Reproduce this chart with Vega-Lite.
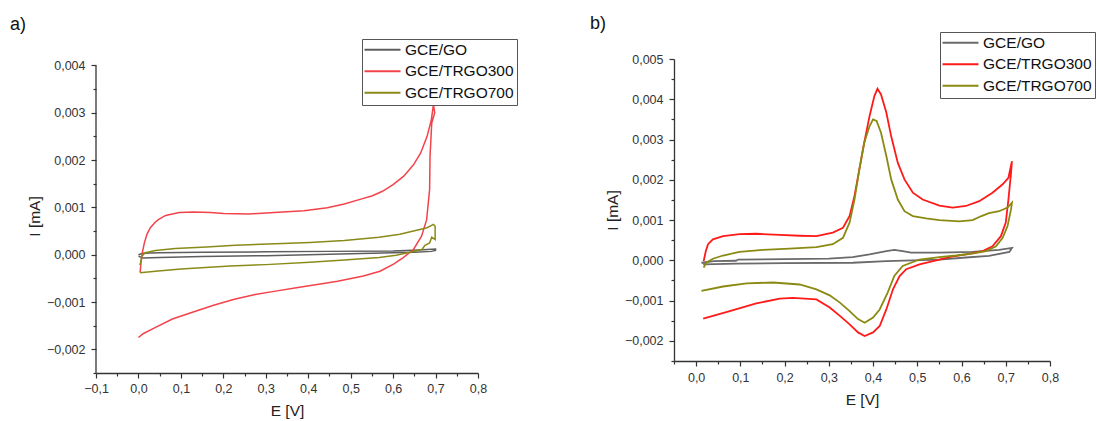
{
  "$schema": "https://vega.github.io/schema/vega-lite/v6.json",
  "background": "white",
  "padding": {"left": 10, "top": 14, "right": 0, "bottom": 0},
  "spacing": 72,
  "columns": 2,
  "align": "none",
  "config": {
    "view": {"stroke": null},
    "font": "Liberation Sans",
    "axis": {"grid": false, "domainColor": "#333333", "domainWidth": 1.3, "tickColor": "#333333", "tickWidth": 1.2, "labelFont": "Liberation Sans", "labelFontSize": 12.5, "labelColor": "#333333", "titleFont": "Liberation Sans", "titleFontSize": 15.5, "titleFontWeight": "normal", "titleColor": "#222222", "labelOverlap": false, "labelFlush": false},
    "legend": {"title": null, "strokeColor": "#555555", "fillColor": "white", "padding": 3, "labelFontSize": 15.5, "labelFont": "Liberation Sans", "labelColor": "#111111", "symbolType": "M-3.6,0H3.6", "symbolSize": 100, "symbolStrokeWidth": 1.8, "symbolOffset": 9.75, "labelOffset": 14.8, "rowPadding": 4.5, "labelLimit": 300},
    "title": {"fontSize": 18, "fontWeight": "normal", "font": "Liberation Sans", "color": "#111111", "anchor": "start", "frame": "group", "baseline": "alphabetic"}
  },
  "resolve": {"scale": {"color": "independent"}, "legend": {"color": "independent"}},
  "datasets": {
    "a": [
      {"s":"GCE/GO","E":0.0,"I":0.0,"k":0},{"s":"GCE/GO","E":0.01,"I":0.00003,"k":1},{"s":"GCE/GO","E":0.05,"I":0.00004,"k":2},{"s":"GCE/GO","E":0.15,"I":0.00005,"k":3},{"s":"GCE/GO","E":0.3,"I":0.00006,"k":4},{"s":"GCE/GO","E":0.45,"I":0.00007,"k":5},{"s":"GCE/GO","E":0.6,"I":0.00008,"k":6},{"s":"GCE/GO","E":0.66,"I":0.0001,"k":7},{"s":"GCE/GO","E":0.7,"I":0.00012,"k":8},{"s":"GCE/GO","E":0.7,"I":0.00009,"k":9},{"s":"GCE/GO","E":0.69,"I":0.00007,"k":10},{"s":"GCE/GO","E":0.65,"I":0.00005,"k":11},{"s":"GCE/GO","E":0.55,"I":0.00003,"k":12},{"s":"GCE/GO","E":0.45,"I":0.00001,"k":13},{"s":"GCE/GO","E":0.3,"I":-0.00002,"k":14},{"s":"GCE/GO","E":0.15,"I":-0.00004,"k":15},{"s":"GCE/GO","E":0.05,"I":-0.00006,"k":16},{"s":"GCE/GO","E":0.01,"I":-0.00007,"k":17},{"s":"GCE/GO","E":0.0,"I":-0.00003,"k":18},
      {"s":"GCE/TRGO300","E":0.004,"I":-0.00038,"k":0},{"s":"GCE/TRGO300","E":0.006,"I":-0.00017,"k":1},{"s":"GCE/TRGO300","E":0.009,"I":0.00004,"k":2},{"s":"GCE/TRGO300","E":0.014,"I":0.00025,"k":3},{"s":"GCE/TRGO300","E":0.02,"I":0.00043,"k":4},{"s":"GCE/TRGO300","E":0.028,"I":0.00057,"k":5},{"s":"GCE/TRGO300","E":0.04,"I":0.00069,"k":6},{"s":"GCE/TRGO300","E":0.047,"I":0.00074,"k":7},{"s":"GCE/TRGO300","E":0.064,"I":0.00083,"k":8},{"s":"GCE/TRGO300","E":0.096,"I":0.00089,"k":9},{"s":"GCE/TRGO300","E":0.13,"I":0.0009,"k":10},{"s":"GCE/TRGO300","E":0.17,"I":0.00089,"k":11},{"s":"GCE/TRGO300","E":0.2,"I":0.00087,"k":12},{"s":"GCE/TRGO300","E":0.26,"I":0.00086,"k":13},{"s":"GCE/TRGO300","E":0.32,"I":0.00089,"k":14},{"s":"GCE/TRGO300","E":0.39,"I":0.00093,"k":15},{"s":"GCE/TRGO300","E":0.445,"I":0.00099,"k":16},{"s":"GCE/TRGO300","E":0.485,"I":0.00107,"k":17},{"s":"GCE/TRGO300","E":0.526,"I":0.00118,"k":18},{"s":"GCE/TRGO300","E":0.55,"I":0.00124,"k":19},{"s":"GCE/TRGO300","E":0.575,"I":0.00134,"k":20},{"s":"GCE/TRGO300","E":0.6,"I":0.00148,"k":21},{"s":"GCE/TRGO300","E":0.625,"I":0.00166,"k":22},{"s":"GCE/TRGO300","E":0.648,"I":0.0019,"k":23},{"s":"GCE/TRGO300","E":0.665,"I":0.00215,"k":24},{"s":"GCE/TRGO300","E":0.68,"I":0.0025,"k":25},{"s":"GCE/TRGO300","E":0.69,"I":0.00285,"k":26},{"s":"GCE/TRGO300","E":0.695,"I":0.00317,"k":27},{"s":"GCE/TRGO300","E":0.698,"I":0.003,"k":28},{"s":"GCE/TRGO300","E":0.691,"I":0.00278,"k":29},{"s":"GCE/TRGO300","E":0.687,"I":0.00208,"k":30},{"s":"GCE/TRGO300","E":0.686,"I":0.00138,"k":31},{"s":"GCE/TRGO300","E":0.679,"I":0.00074,"k":32},{"s":"GCE/TRGO300","E":0.667,"I":0.00039,"k":33},{"s":"GCE/TRGO300","E":0.648,"I":0.00011,"k":34},{"s":"GCE/TRGO300","E":0.624,"I":-0.00006,"k":35},{"s":"GCE/TRGO300","E":0.601,"I":-0.0002,"k":36},{"s":"GCE/TRGO300","E":0.569,"I":-0.00035,"k":37},{"s":"GCE/TRGO300","E":0.53,"I":-0.00045,"k":38},{"s":"GCE/TRGO300","E":0.469,"I":-0.00056,"k":39},{"s":"GCE/TRGO300","E":0.421,"I":-0.00063,"k":40},{"s":"GCE/TRGO300","E":0.372,"I":-0.0007,"k":41},{"s":"GCE/TRGO300","E":0.323,"I":-0.00077,"k":42},{"s":"GCE/TRGO300","E":0.275,"I":-0.00084,"k":43},{"s":"GCE/TRGO300","E":0.226,"I":-0.00094,"k":44},{"s":"GCE/TRGO300","E":0.177,"I":-0.00107,"k":45},{"s":"GCE/TRGO300","E":0.129,"I":-0.00121,"k":46},{"s":"GCE/TRGO300","E":0.08,"I":-0.00136,"k":47},{"s":"GCE/TRGO300","E":0.039,"I":-0.00154,"k":48},{"s":"GCE/TRGO300","E":0.011,"I":-0.00167,"k":49},{"s":"GCE/TRGO300","E":0.0,"I":-0.00175,"k":50},
      {"s":"GCE/TRGO700","E":0.003,"I":-0.00022,"k":0},{"s":"GCE/TRGO700","E":0.005,"I":-0.00017,"k":1},{"s":"GCE/TRGO700","E":0.008,"I":-0.00003,"k":2},{"s":"GCE/TRGO700","E":0.016,"I":0.00004,"k":3},{"s":"GCE/TRGO700","E":0.04,"I":0.00009,"k":4},{"s":"GCE/TRGO700","E":0.087,"I":0.00013,"k":5},{"s":"GCE/TRGO700","E":0.16,"I":0.00016,"k":6},{"s":"GCE/TRGO700","E":0.228,"I":0.0002,"k":7},{"s":"GCE/TRGO700","E":0.323,"I":0.00023,"k":8},{"s":"GCE/TRGO700","E":0.404,"I":0.00026,"k":9},{"s":"GCE/TRGO700","E":0.485,"I":0.0003,"k":10},{"s":"GCE/TRGO700","E":0.567,"I":0.00037,"k":11},{"s":"GCE/TRGO700","E":0.616,"I":0.00043,"k":12},{"s":"GCE/TRGO700","E":0.648,"I":0.0005,"k":13},{"s":"GCE/TRGO700","E":0.68,"I":0.00057,"k":14},{"s":"GCE/TRGO700","E":0.695,"I":0.00064,"k":15},{"s":"GCE/TRGO700","E":0.699,"I":0.0006,"k":16},{"s":"GCE/TRGO700","E":0.699,"I":0.00032,"k":17},{"s":"GCE/TRGO700","E":0.691,"I":0.00037,"k":18},{"s":"GCE/TRGO700","E":0.686,"I":0.00025,"k":19},{"s":"GCE/TRGO700","E":0.675,"I":0.0002,"k":20},{"s":"GCE/TRGO700","E":0.668,"I":0.00011,"k":21},{"s":"GCE/TRGO700","E":0.645,"I":0.00006,"k":22},{"s":"GCE/TRGO700","E":0.607,"I":-0.00001,"k":23},{"s":"GCE/TRGO700","E":0.567,"I":-0.00006,"k":24},{"s":"GCE/TRGO700","E":0.485,"I":-0.00011,"k":25},{"s":"GCE/TRGO700","E":0.404,"I":-0.00016,"k":26},{"s":"GCE/TRGO700","E":0.3,"I":-0.00021,"k":27},{"s":"GCE/TRGO700","E":0.216,"I":-0.00024,"k":28},{"s":"GCE/TRGO700","E":0.1,"I":-0.0003,"k":29},{"s":"GCE/TRGO700","E":0.04,"I":-0.00035,"k":30},{"s":"GCE/TRGO700","E":0.004,"I":-0.00038,"k":31}
    ],
    "b": [
      {"s":"GCE/GO","E":0.012,"I":-0.00006,"k":0},{"s":"GCE/GO","E":0.04,"I":-0.00002,"k":1},{"s":"GCE/GO","E":0.09,"I":-0.00001,"k":2},{"s":"GCE/GO","E":0.095,"I":0.00002,"k":3},{"s":"GCE/GO","E":0.2,"I":0.00003,"k":4},{"s":"GCE/GO","E":0.3,"I":0.00004,"k":5},{"s":"GCE/GO","E":0.354,"I":0.00008,"k":6},{"s":"GCE/GO","E":0.392,"I":0.00015,"k":7},{"s":"GCE/GO","E":0.43,"I":0.00023,"k":8},{"s":"GCE/GO","E":0.448,"I":0.00026,"k":9},{"s":"GCE/GO","E":0.467,"I":0.00023,"k":10},{"s":"GCE/GO","E":0.486,"I":0.00019,"k":11},{"s":"GCE/GO","E":0.55,"I":0.00019,"k":12},{"s":"GCE/GO","E":0.625,"I":0.00021,"k":13},{"s":"GCE/GO","E":0.685,"I":0.00026,"k":14},{"s":"GCE/GO","E":0.714,"I":0.00031,"k":15},{"s":"GCE/GO","E":0.708,"I":0.00021,"k":16},{"s":"GCE/GO","E":0.662,"I":0.00011,"k":17},{"s":"GCE/GO","E":0.61,"I":0.00007,"k":18},{"s":"GCE/GO","E":0.55,"I":0.00002,"k":19},{"s":"GCE/GO","E":0.43,"I":-0.00002,"k":20},{"s":"GCE/GO","E":0.354,"I":-0.00006,"k":21},{"s":"GCE/GO","E":0.2,"I":-0.00007,"k":22},{"s":"GCE/GO","E":0.091,"I":-0.00008,"k":23},{"s":"GCE/GO","E":0.016,"I":-0.0001,"k":24},
      {"s":"GCE/TRGO300","E":0.017,"I":-0.00002,"k":0},{"s":"GCE/TRGO300","E":0.022,"I":0.00023,"k":1},{"s":"GCE/TRGO300","E":0.027,"I":0.0004,"k":2},{"s":"GCE/TRGO300","E":0.038,"I":0.00052,"k":3},{"s":"GCE/TRGO300","E":0.061,"I":0.0006,"k":4},{"s":"GCE/TRGO300","E":0.098,"I":0.00065,"k":5},{"s":"GCE/TRGO300","E":0.136,"I":0.00066,"k":6},{"s":"GCE/TRGO300","E":0.189,"I":0.00063,"k":7},{"s":"GCE/TRGO300","E":0.234,"I":0.00061,"k":8},{"s":"GCE/TRGO300","E":0.272,"I":0.0006,"k":9},{"s":"GCE/TRGO300","E":0.309,"I":0.00069,"k":10},{"s":"GCE/TRGO300","E":0.332,"I":0.00081,"k":11},{"s":"GCE/TRGO300","E":0.347,"I":0.0011,"k":12},{"s":"GCE/TRGO300","E":0.358,"I":0.0016,"k":13},{"s":"GCE/TRGO300","E":0.369,"I":0.00226,"k":14},{"s":"GCE/TRGO300","E":0.38,"I":0.00292,"k":15},{"s":"GCE/TRGO300","E":0.392,"I":0.00358,"k":16},{"s":"GCE/TRGO300","E":0.403,"I":0.00408,"k":17},{"s":"GCE/TRGO300","E":0.41,"I":0.00426,"k":18},{"s":"GCE/TRGO300","E":0.418,"I":0.00412,"k":19},{"s":"GCE/TRGO300","E":0.43,"I":0.00367,"k":20},{"s":"GCE/TRGO300","E":0.441,"I":0.00308,"k":21},{"s":"GCE/TRGO300","E":0.456,"I":0.00242,"k":22},{"s":"GCE/TRGO300","E":0.471,"I":0.00201,"k":23},{"s":"GCE/TRGO300","E":0.49,"I":0.00168,"k":24},{"s":"GCE/TRGO300","E":0.512,"I":0.00151,"k":25},{"s":"GCE/TRGO300","E":0.55,"I":0.00136,"k":26},{"s":"GCE/TRGO300","E":0.58,"I":0.00131,"k":27},{"s":"GCE/TRGO300","E":0.61,"I":0.00135,"k":28},{"s":"GCE/TRGO300","E":0.64,"I":0.00147,"k":29},{"s":"GCE/TRGO300","E":0.67,"I":0.00168,"k":30},{"s":"GCE/TRGO300","E":0.693,"I":0.00189,"k":31},{"s":"GCE/TRGO300","E":0.706,"I":0.00205,"k":32},{"s":"GCE/TRGO300","E":0.714,"I":0.00246,"k":33},{"s":"GCE/TRGO300","E":0.712,"I":0.00218,"k":34},{"s":"GCE/TRGO300","E":0.706,"I":0.00151,"k":35},{"s":"GCE/TRGO300","E":0.7,"I":0.00094,"k":36},{"s":"GCE/TRGO300","E":0.689,"I":0.0006,"k":37},{"s":"GCE/TRGO300","E":0.67,"I":0.00035,"k":38},{"s":"GCE/TRGO300","E":0.648,"I":0.00023,"k":39},{"s":"GCE/TRGO300","E":0.61,"I":0.00015,"k":40},{"s":"GCE/TRGO300","E":0.572,"I":0.00008,"k":41},{"s":"GCE/TRGO300","E":0.55,"I":0.00002,"k":42},{"s":"GCE/TRGO300","E":0.505,"I":-0.0001,"k":43},{"s":"GCE/TRGO300","E":0.475,"I":-0.00022,"k":44},{"s":"GCE/TRGO300","E":0.46,"I":-0.00039,"k":45},{"s":"GCE/TRGO300","E":0.445,"I":-0.00072,"k":46},{"s":"GCE/TRGO300","E":0.43,"I":-0.00122,"k":47},{"s":"GCE/TRGO300","E":0.415,"I":-0.00163,"k":48},{"s":"GCE/TRGO300","E":0.4,"I":-0.00179,"k":49},{"s":"GCE/TRGO300","E":0.381,"I":-0.00188,"k":50},{"s":"GCE/TRGO300","E":0.366,"I":-0.00179,"k":51},{"s":"GCE/TRGO300","E":0.347,"I":-0.00159,"k":52},{"s":"GCE/TRGO300","E":0.325,"I":-0.00138,"k":53},{"s":"GCE/TRGO300","E":0.302,"I":-0.00117,"k":54},{"s":"GCE/TRGO300","E":0.272,"I":-0.00097,"k":55},{"s":"GCE/TRGO300","E":0.219,"I":-0.00093,"k":56},{"s":"GCE/TRGO300","E":0.189,"I":-0.00095,"k":57},{"s":"GCE/TRGO300","E":0.136,"I":-0.00107,"k":58},{"s":"GCE/TRGO300","E":0.076,"I":-0.00126,"k":59},{"s":"GCE/TRGO300","E":0.016,"I":-0.00145,"k":60},
      {"s":"GCE/TRGO700","E":0.017,"I":-0.00018,"k":0},{"s":"GCE/TRGO700","E":0.023,"I":-0.00006,"k":1},{"s":"GCE/TRGO700","E":0.038,"I":0.00004,"k":2},{"s":"GCE/TRGO700","E":0.061,"I":0.00012,"k":3},{"s":"GCE/TRGO700","E":0.098,"I":0.00021,"k":4},{"s":"GCE/TRGO700","E":0.151,"I":0.00026,"k":5},{"s":"GCE/TRGO700","E":0.211,"I":0.00029,"k":6},{"s":"GCE/TRGO700","E":0.272,"I":0.00033,"k":7},{"s":"GCE/TRGO700","E":0.309,"I":0.0004,"k":8},{"s":"GCE/TRGO700","E":0.332,"I":0.00056,"k":9},{"s":"GCE/TRGO700","E":0.347,"I":0.00094,"k":10},{"s":"GCE/TRGO700","E":0.358,"I":0.00151,"k":11},{"s":"GCE/TRGO700","E":0.369,"I":0.00226,"k":12},{"s":"GCE/TRGO700","E":0.38,"I":0.00292,"k":13},{"s":"GCE/TRGO700","E":0.392,"I":0.00333,"k":14},{"s":"GCE/TRGO700","E":0.4,"I":0.0035,"k":15},{"s":"GCE/TRGO700","E":0.408,"I":0.00346,"k":16},{"s":"GCE/TRGO700","E":0.418,"I":0.00317,"k":17},{"s":"GCE/TRGO700","E":0.43,"I":0.00259,"k":18},{"s":"GCE/TRGO700","E":0.441,"I":0.00201,"k":19},{"s":"GCE/TRGO700","E":0.456,"I":0.00151,"k":20},{"s":"GCE/TRGO700","E":0.471,"I":0.00122,"k":21},{"s":"GCE/TRGO700","E":0.49,"I":0.0011,"k":22},{"s":"GCE/TRGO700","E":0.52,"I":0.00104,"k":23},{"s":"GCE/TRGO700","E":0.55,"I":0.001,"k":24},{"s":"GCE/TRGO700","E":0.595,"I":0.00097,"k":25},{"s":"GCE/TRGO700","E":0.625,"I":0.001,"k":26},{"s":"GCE/TRGO700","E":0.645,"I":0.0011,"k":27},{"s":"GCE/TRGO700","E":0.662,"I":0.00117,"k":28},{"s":"GCE/TRGO700","E":0.685,"I":0.00122,"k":29},{"s":"GCE/TRGO700","E":0.704,"I":0.00131,"k":30},{"s":"GCE/TRGO700","E":0.714,"I":0.00143,"k":31},{"s":"GCE/TRGO700","E":0.712,"I":0.00127,"k":32},{"s":"GCE/TRGO700","E":0.704,"I":0.00085,"k":33},{"s":"GCE/TRGO700","E":0.693,"I":0.00056,"k":34},{"s":"GCE/TRGO700","E":0.678,"I":0.00035,"k":35},{"s":"GCE/TRGO700","E":0.655,"I":0.00023,"k":36},{"s":"GCE/TRGO700","E":0.625,"I":0.00017,"k":37},{"s":"GCE/TRGO700","E":0.588,"I":0.00012,"k":38},{"s":"GCE/TRGO700","E":0.55,"I":0.00008,"k":39},{"s":"GCE/TRGO700","E":0.505,"I":0.00002,"k":40},{"s":"GCE/TRGO700","E":0.467,"I":-0.00014,"k":41},{"s":"GCE/TRGO700","E":0.448,"I":-0.00039,"k":42},{"s":"GCE/TRGO700","E":0.433,"I":-0.0008,"k":43},{"s":"GCE/TRGO700","E":0.415,"I":-0.00122,"k":44},{"s":"GCE/TRGO700","E":0.4,"I":-0.00142,"k":45},{"s":"GCE/TRGO700","E":0.381,"I":-0.00155,"k":46},{"s":"GCE/TRGO700","E":0.366,"I":-0.00146,"k":47},{"s":"GCE/TRGO700","E":0.347,"I":-0.00126,"k":48},{"s":"GCE/TRGO700","E":0.325,"I":-0.00105,"k":49},{"s":"GCE/TRGO700","E":0.302,"I":-0.00087,"k":50},{"s":"GCE/TRGO700","E":0.272,"I":-0.00072,"k":51},{"s":"GCE/TRGO700","E":0.234,"I":-0.0006,"k":52},{"s":"GCE/TRGO700","E":0.174,"I":-0.00055,"k":53},{"s":"GCE/TRGO700","E":0.114,"I":-0.00057,"k":54},{"s":"GCE/TRGO700","E":0.061,"I":-0.00065,"k":55},{"s":"GCE/TRGO700","E":0.012,"I":-0.00076,"k":56}
    ],
    "axisA": [{"E": -0.1, "I": -0.0025, "I2": 0.004}]
  },
  "concat": [
    {
      "title": {"text": "a)", "dx": -86, "offset": 5},
      "width": 382, "height": 314,
      "resolve": {"axis": {"x": "independent", "y": "independent"}},
      "layer": [
        {
          "data": {"name": "a"},
          "mark": {"type": "line", "strokeWidth": 1.5, "clip": false},
          "encoding": {
            "x": {"field": "E", "type": "quantitative", "scale": {"domain": [-0.1, 0.8], "nice": false, "zero": false},
              "axis": {"title": "E [V]", "orient": "bottom", "values": [-0.1,-0.05,0,0.05,0.1,0.15,0.2,0.25,0.3,0.35,0.4,0.45,0.5,0.55,0.6,0.65,0.7,0.75,0.8],
                "labelExpr": "abs(datum.value*10-round(datum.value*10))<0.01 ? replace(format(datum.value,'.1f'),'.',',') : ''",
                "tickSize": {"condition": {"test": "abs(datum.value*10-round(datum.value*10))<0.01", "value": 5}, "value": 3},
                "labelPadding": 4, "titlePadding": 9}},
            "y": {"field": "I", "type": "quantitative", "scale": {"domain": [-0.0025, 0.004135], "nice": false, "zero": false},
              "axis": {"title": "I [mA]", "orient": "left", "domain": false, "values": [-0.0025,-0.002,-0.0015,-0.001,-0.0005,0,0.0005,0.001,0.0015,0.002,0.0025,0.003,0.0035,0.004],
                "labelExpr": "abs(datum.value*1000-round(datum.value*1000))<0.01 ? replace(format(datum.value,'.3f'),'.',',') : ''",
                "tickSize": {"condition": {"test": "abs(datum.value*1000-round(datum.value*1000))<0.01", "value": 5}, "value": 3},
                "labelPadding": 6, "titlePadding": 4}},
            "color": {"field": "s", "type": "nominal",
              "scale": {"domain": ["GCE/GO", "GCE/TRGO300", "GCE/TRGO700"], "range": ["#5e5e5e", "#f2434a", "#8a8a18"]},
              "legend": {"orient": "none", "legendX": 266, "legendY": -20}},
            "order": {"field": "k", "type": "quantitative"}
          }
        },
        {
          "data": {"name": "axisA"},
          "mark": {"type": "rule", "color": "#333333", "strokeWidth": 1.3},
          "encoding": {
            "x": {"field": "E", "type": "quantitative", "axis": null},
            "y": {"field": "I", "type": "quantitative", "axis": null},
            "y2": {"field": "I2"}
          }
        }
      ]
    },
    {
      "title": {"text": "b)", "dx": -84, "offset": -1},
      "width": 376, "height": 302,
      "data": {"name": "b"},
      "mark": {"type": "line", "strokeWidth": 1.8, "clip": false},
      "encoding": {
        "x": {"field": "E", "type": "quantitative", "scale": {"domain": [-0.05, 0.8], "nice": false, "zero": false},
          "axis": {"title": "E [V]", "values": [-0.05,0,0.05,0.1,0.15,0.2,0.25,0.3,0.35,0.4,0.45,0.5,0.55,0.6,0.65,0.7,0.75,0.8],
            "labelExpr": "abs(datum.value*10-round(datum.value*10))<0.01 ? replace(format(datum.value,'.1f'),'.',',') : ''",
            "tickSize": {"condition": {"test": "abs(datum.value*10-round(datum.value*10))<0.01", "value": 5}, "value": 3},
            "labelPadding": 5, "titlePadding": 9}},
        "y": {"field": "I", "type": "quantitative", "scale": {"domain": [-0.0025, 0.005], "nice": false, "zero": false},
          "axis": {"title": "I [mA]", "values": [-0.0025,-0.002,-0.0015,-0.001,-0.0005,0,0.0005,0.001,0.0015,0.002,0.0025,0.003,0.0035,0.004,0.0045,0.005],
            "labelExpr": "abs(datum.value*1000-round(datum.value*1000))<0.01 ? replace(format(datum.value,'.3f'),'.',',') : ''",
            "tickSize": {"condition": {"test": "abs(datum.value*1000-round(datum.value*1000))<0.01", "value": 5}, "value": 3},
            "labelPadding": 6, "titlePadding": 4}},
        "color": {"field": "s", "type": "nominal",
          "scale": {"domain": ["GCE/GO", "GCE/TRGO300", "GCE/TRGO700"], "range": ["#6a6a6a", "#ff1a1a", "#8a8a12"]},
          "legend": {"orient": "none", "legendX": 266, "legendY": -27}},
        "order": {"field": "k", "type": "quantitative"}
      }
    }
  ]
}
